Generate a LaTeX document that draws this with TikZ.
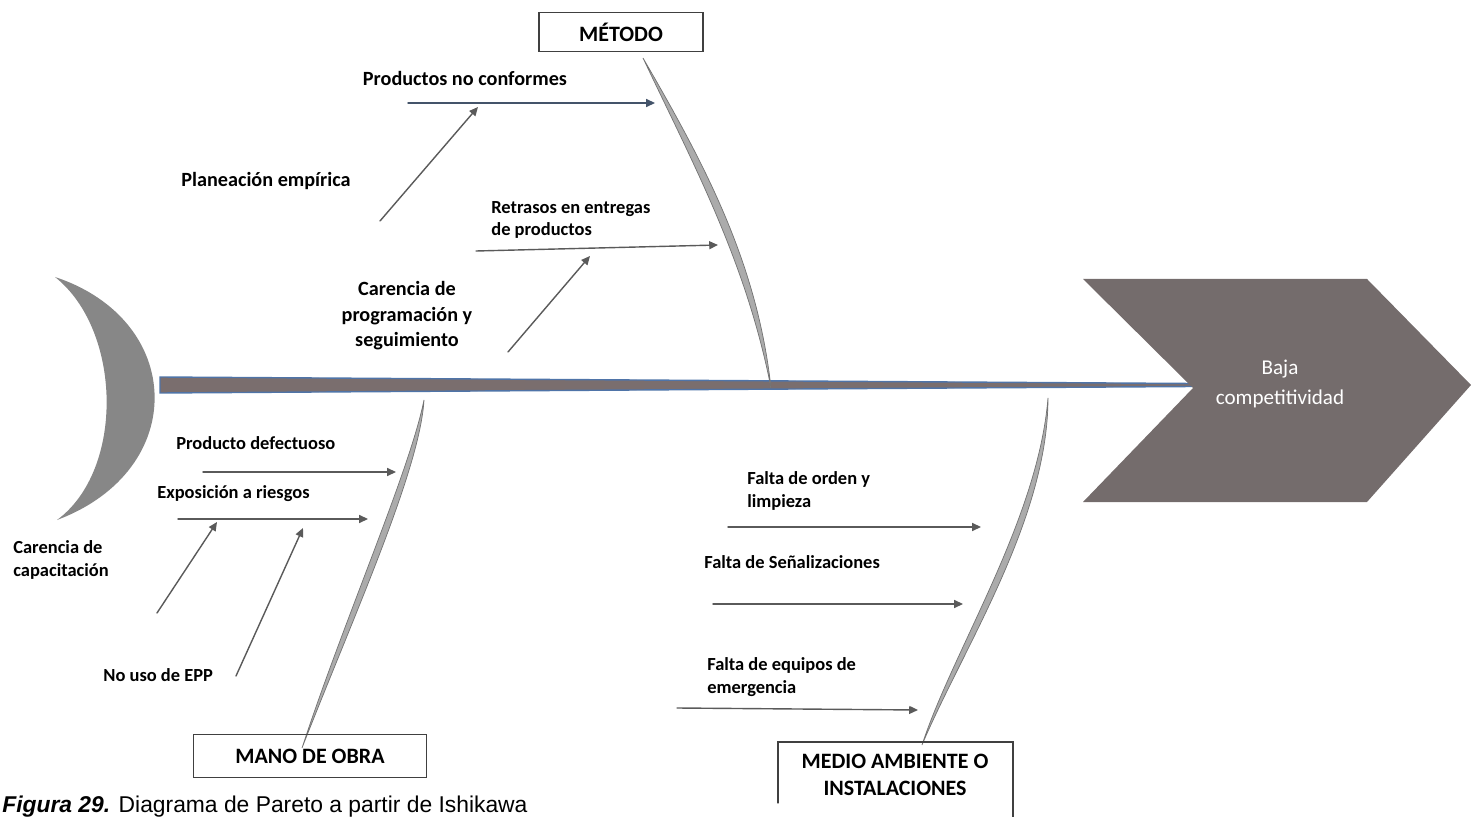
\documentclass[tikz,border=0pt]{standalone}
\usepackage{fontspec}
\setmainfont{Carlito}
\newfontfamily\capfont{Liberation Sans}
\usetikzlibrary{arrows.meta}

\definecolor{headgray}{HTML}{746C6C}
\definecolor{spinefill}{HTML}{7A6E6E}
\definecolor{spineblue}{HTML}{4F74A8}
\definecolor{arrowgray}{HTML}{5A5A5A}
\definecolor{arrowblue}{HTML}{44546A}

\begin{document}
\begin{tikzpicture}[x=0.02cm, y=-0.02cm, line cap=round,
	every node/.style={inner sep=0pt},
	bigcause/.style={font=\bfseries\fontsize{11.5}{14.5}\selectfont, align=center},
	cause/.style={font=\bfseries\fontsize{10.5}{13}\selectfont, align=left},
	catbox/.style={draw=black!75, line width=0.7pt, font=\bfseries\fontsize{12.5}{15.5}\selectfont},
	arr/.style={draw=arrowgray, line width=0.8pt, -{Triangle[length=5pt,width=4.5pt]}},
	bone/.style={fill=black!33, draw=black!55, line width=0.4pt}]
	\useasboundingbox (0,0) rectangle (1471,817);
	\clip (0,0) rectangle (1471,817);
	% tail
	\fill[black!47] (55,277) .. controls (185,320) and (190,470) .. (57,520)
		.. controls (125,470) and (122,330) .. cycle;
	% spine
	\filldraw[fill=spinefill, draw=spineblue, line width=0.8pt]
		(160,377) -- (1193,383.5) -- (1193,386.5) -- (160,393) -- cycle;
	% head
	\fill[headgray] (1083,279) -- (1367,279) -- (1471,385) -- (1367,502)
		-- (1083,502) -- (1193,388) -- cycle;
	\node[text=white, align=center, font=\fontsize{12}{17}\selectfont] (efecto) at (1280,384)
		{Baja\\competitividad};
	% bones
	\filldraw[bone] (643,58) .. controls (702,160) and (757,260) .. (771,388)
		.. controls (746,260) and (691,160) .. cycle;
	\filldraw[bone] (424,400) .. controls (420,470) and (352,620) .. (302,748)
		.. controls (344,620) and (410,470) .. cycle;
	\filldraw[bone] (1048,398) .. controls (1048,520) and (962,650) .. (922,745)
		.. controls (953,650) and (1038,520) .. cycle;
	% categories
	\node[catbox, minimum width=3.28cm, minimum height=0.78cm] (metodo) at (621,32) {MÉTODO};
	\node[catbox, minimum width=4.66cm, minimum height=0.86cm] (mano) at (310,756) {MANO DE OBRA};
	\node[catbox, draw=none, align=center] (medio) at (895,775) {MEDIO AMBIENTE O\\INSTALACIONES};
	\draw[black!75, line width=0.7pt] (778,803) |- (1013,742) -- (1013,830);
	% causes
	\node[bigcause] (pnc) at (465,78) {Productos no conformes};
	\node[bigcause] (plan) at (266,181) {Planeación empírica};
	\node[cause, anchor=west] (retr) at (491,220) {Retrasos en entregas\\de productos};
	\node[bigcause] (carprog) at (407,316) {Carencia de\\programación y\\seguimiento};
	\node[cause, anchor=west] (prodef) at (176,443) {Producto defectuoso};
	\node[cause, anchor=west] (expo) at (157,494) {Exposición a riesgos};
	\node[cause, anchor=west] (carcap) at (13,560) {Carencia de\\capacitación};
	\node[cause, anchor=west] (noepp) at (103,675) {No uso de EPP};
	\node[cause, anchor=west] (orden) at (747,491) {Falta de orden y\\limpieza};
	\node[cause, anchor=west] (senal) at (704,562) {Falta de Señalizaciones};
	\node[cause, anchor=west] (equipos) at (707,677) {Falta de equipos de\\emergencia};
	% arrow ends
	\coordinate (a1) at (408,103);  \coordinate (b1) at (655,103);
	\coordinate (a2) at (380,221);  \coordinate (b2) at (478,107);
	\coordinate (a3) at (476,251);  \coordinate (b3) at (718,245);
	\coordinate (a4) at (508,352);  \coordinate (b4) at (590,256);
	\coordinate (a5) at (203,472);  \coordinate (b5) at (396,472);
	\coordinate (a6) at (178,519);  \coordinate (b6) at (368,519);
	\coordinate (a7) at (157,613);  \coordinate (b7) at (217,522);
	\coordinate (a8) at (236,676);  \coordinate (b8) at (303,528);
	\coordinate (a9) at (728,527);  \coordinate (b9) at (981,527);
	\coordinate (a10) at (713,604); \coordinate (b10) at (963,604);
	\coordinate (a11) at (677,708); \coordinate (b11) at (918,710);
	\draw[arr, draw=arrowblue] (a1) -- (b1);
	\foreach \i in {2,...,11}
		\draw[arr] (a\i) -- (b\i);
	% caption
	\node[anchor=base west, font=\capfont\fontsize{13}{15}\selectfont] (caption) at (2,812)
		{\textbf{\textit{Figura 29.}} Diagrama de Pareto a partir de Ishikawa};
\end{tikzpicture}
\end{document}
